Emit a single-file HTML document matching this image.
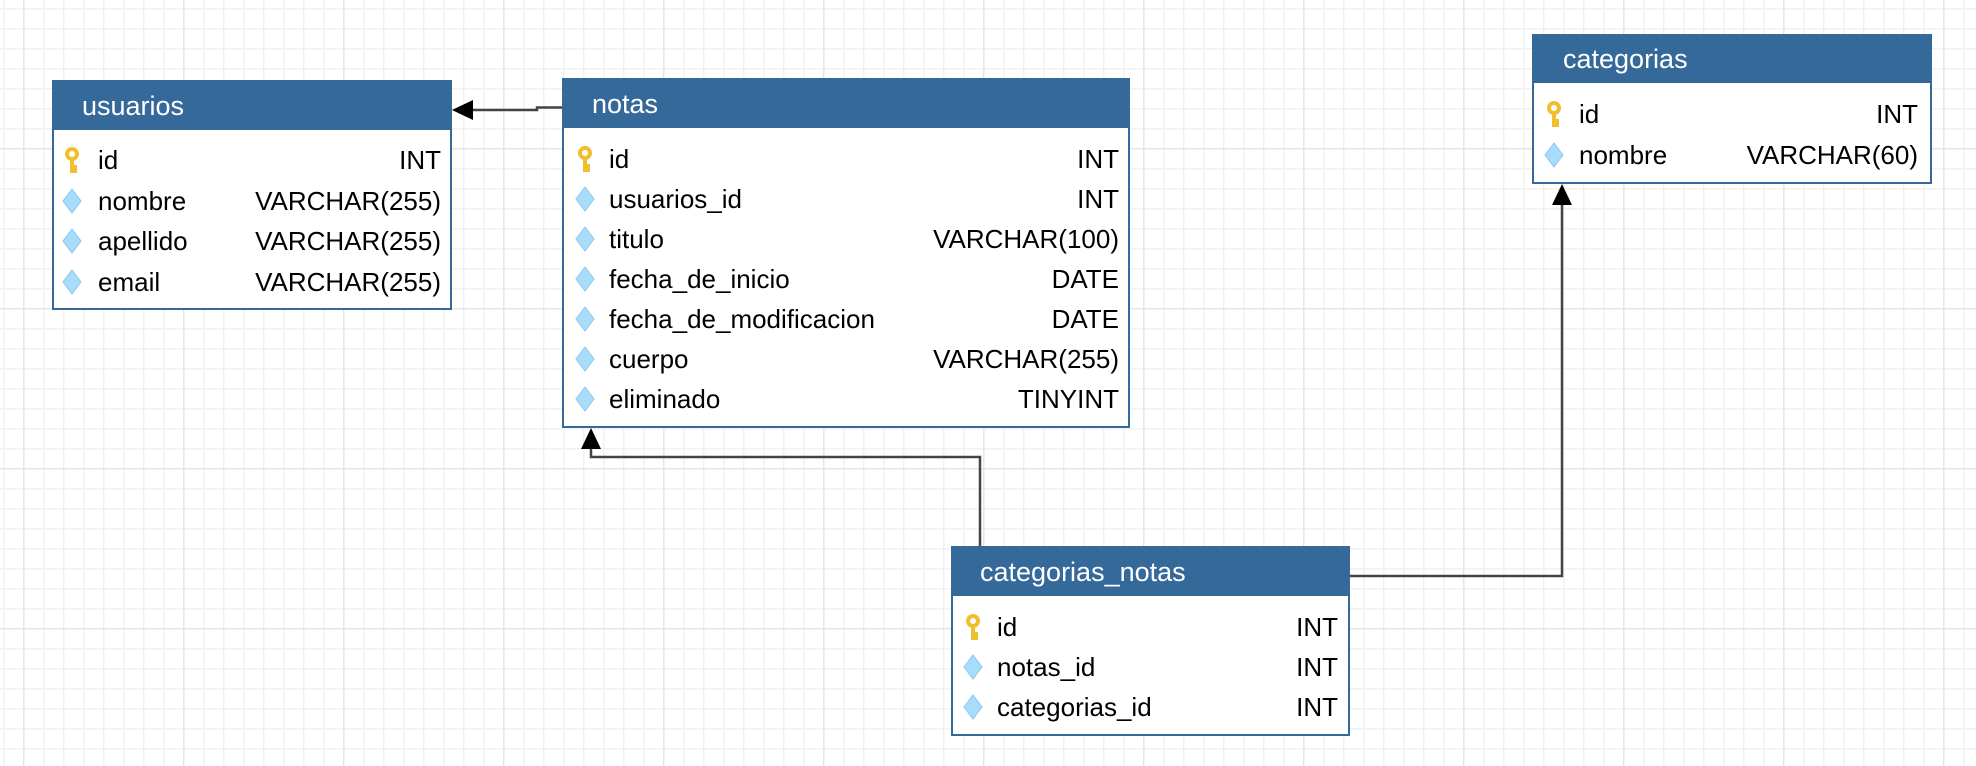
<!DOCTYPE html>
<html><head><meta charset="utf-8"><style>
html,body{margin:0;padding:0;background:#fff}
svg{display:block}
text{font-family:"Liberation Sans",Arial,sans-serif}
</style></head><body>
<svg width="1976" height="766" xmlns="http://www.w3.org/2000/svg">
<defs>
<pattern id="minor" width="20" height="20" patternUnits="userSpaceOnUse" x="3" y="8">
<path d="M0.5 0V20M0 0.5H20" stroke="#f1f1f1" stroke-width="2" fill="none"/>
</pattern>
<pattern id="major" width="160" height="160" patternUnits="userSpaceOnUse" x="23" y="148">
<path d="M0.5 0V160M0 0.5H160" stroke="#e6e6e6" stroke-width="2" fill="none"/>
</pattern>
<g id="key"><circle cx="0" cy="-6" r="5" fill="none" stroke="#f0bf2e" stroke-width="4"/><path d="M0 -1V13M0 7H5M0 11H5" stroke="#f0bf2e" stroke-width="4" fill="none"/></g>
<g id="dia"><path d="M0 -12L9 0L0 12L-9 0Z" fill="#a8dcfb" stroke="#8cc8ef" stroke-width="1"/></g>
</defs>
<rect width="1976" height="766" fill="#fff"/>
<rect width="1976" height="766" fill="url(#minor)"/>
<rect width="1976" height="766" fill="url(#major)"/>

<g stroke="#444" stroke-width="2.5" fill="none">
<path d="M470 110H537V107.5H562"/>
<path d="M591 448V457H980V546"/>
<path d="M1350 576H1562V203"/>
</g>
<g fill="#000">
<path d="M452 110L473 100V120Z"/>
<path d="M591 428L581 449H601Z"/>
<path d="M1562 184L1552 205H1572Z"/>
</g>

<!-- usuarios -->
<rect x="53" y="81" width="398" height="228" fill="#fff" stroke="#35699a" stroke-width="2"/>
<rect x="52" y="80" width="400" height="50" fill="#35699a"/>
<text x="82" y="115" font-size="27" fill="#fff">usuarios</text>
<g font-size="26" fill="#000">
<use href="#key" x="72" y="160"/><text x="98" y="169">id</text><text x="441" y="169" text-anchor="end">INT</text>
<use href="#dia" x="72" y="201"/><text x="98" y="210">nombre</text><text x="441" y="210" text-anchor="end">VARCHAR(255)</text>
<use href="#dia" x="72" y="241"/><text x="98" y="250">apellido</text><text x="441" y="250" text-anchor="end">VARCHAR(255)</text>
<use href="#dia" x="72" y="282"/><text x="98" y="291">email</text><text x="441" y="291" text-anchor="end">VARCHAR(255)</text>
</g>

<!-- notas -->
<rect x="563" y="79" width="566" height="348" fill="#fff" stroke="#35699a" stroke-width="2"/>
<rect x="562" y="78" width="568" height="50" fill="#35699a"/>
<text x="592" y="113" font-size="27" fill="#fff">notas</text>
<g font-size="26" fill="#000">
<use href="#key" x="585" y="159"/><text x="609" y="168">id</text><text x="1119" y="168" text-anchor="end">INT</text>
<use href="#dia" x="585" y="199"/><text x="609" y="208">usuarios_id</text><text x="1119" y="208" text-anchor="end">INT</text>
<use href="#dia" x="585" y="239"/><text x="609" y="248">titulo</text><text x="1119" y="248" text-anchor="end">VARCHAR(100)</text>
<use href="#dia" x="585" y="279"/><text x="609" y="288">fecha_de_inicio</text><text x="1119" y="288" text-anchor="end">DATE</text>
<use href="#dia" x="585" y="319"/><text x="609" y="328">fecha_de_modificacion</text><text x="1119" y="328" text-anchor="end">DATE</text>
<use href="#dia" x="585" y="359"/><text x="609" y="368">cuerpo</text><text x="1119" y="368" text-anchor="end">VARCHAR(255)</text>
<use href="#dia" x="585" y="399"/><text x="609" y="408">eliminado</text><text x="1119" y="408" text-anchor="end">TINYINT</text>
</g>

<!-- categorias -->
<rect x="1533" y="35" width="398" height="148" fill="#fff" stroke="#35699a" stroke-width="2"/>
<rect x="1532" y="34" width="400" height="49" fill="#35699a"/>
<text x="1563" y="68" font-size="27" fill="#fff">categorias</text>
<g font-size="26" fill="#000">
<use href="#key" x="1554" y="114"/><text x="1579" y="123">id</text><text x="1918" y="123" text-anchor="end">INT</text>
<use href="#dia" x="1554" y="155"/><text x="1579" y="164">nombre</text><text x="1918" y="164" text-anchor="end">VARCHAR(60)</text>
</g>

<!-- categorias_notas -->
<rect x="952" y="547" width="397" height="188" fill="#fff" stroke="#35699a" stroke-width="2"/>
<rect x="951" y="546" width="399" height="50" fill="#35699a"/>
<text x="980" y="581" font-size="27" fill="#fff">categorias_notas</text>
<g font-size="26" fill="#000">
<use href="#key" x="973" y="627"/><text x="997" y="636">id</text><text x="1338" y="636" text-anchor="end">INT</text>
<use href="#dia" x="973" y="667"/><text x="997" y="676">notas_id</text><text x="1338" y="676" text-anchor="end">INT</text>
<use href="#dia" x="973" y="707"/><text x="997" y="716">categorias_id</text><text x="1338" y="716" text-anchor="end">INT</text>
</g>
</svg>
</body></html>
